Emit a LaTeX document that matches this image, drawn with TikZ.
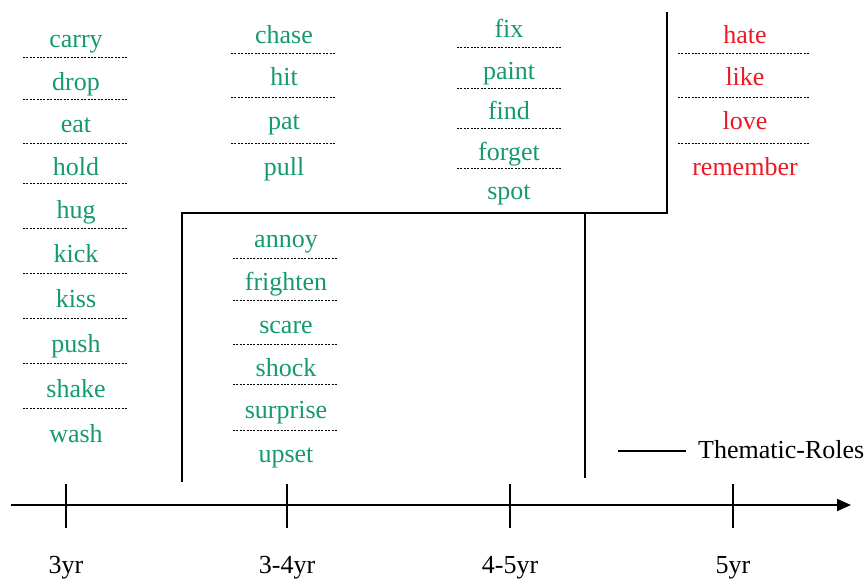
\documentclass[tikz,border=0pt]{standalone}
\usepackage{fontspec}
\setmainfont{Liberation Serif}
\usetikzlibrary{arrows.meta}
\definecolor{verbgreen}{RGB}{20,155,105}
\definecolor{verbred}{RGB}{235,25,35}
\begin{document}
\begin{tikzpicture}[x=1pt,y=-1pt,
  word/.style={anchor=base, inner sep=0pt, font=\fontsize{26}{30}\selectfont},
  gword/.style={word, text=verbgreen},
  rword/.style={word, text=verbred},
  sepline/.style={draw, line width=0.8pt, dash pattern=on 2pt off 1.4pt},
  frameline/.style={line width=2pt},
  tickline/.style={line width=2pt}]
\useasboundingbox (0,0) rectangle (868,579);

% column 1 (3yr)
\foreach \w/\b in {carry/47, drop/90, eat/132, hold/175, hug/218, kick/262, kiss/307, push/352, shake/397, wash/442}
  \node[gword] (c1-\w) at (76,\b) {\w};
\foreach \y in {57,99,143,183,228,273,318,363,408}
  \draw[sepline] (23,\y) -- (127,\y);

% column 2 top
\foreach \w/\b in {chase/43, hit/85, pat/129, pull/175}
  \node[gword] (c2-\w) at (284,\b) {\w};
\foreach \y in {53,97,143}
  \draw[sepline] (231,\y) -- (336,\y);

% column 2 bottom
\foreach \w/\b in {annoy/247, frighten/290, scare/333, shock/376, surprise/418, upset/462}
  \node[gword] (c2b-\w) at (286,\b) {\w};
\foreach \y in {258,300,344,384,430}
  \draw[sepline] (233,\y) -- (338,\y);

% column 3
\foreach \w/\b in {fix/37, paint/79, find/119, forget/160, spot/199}
  \node[gword] (c3-\w) at (509,\b) {\w};
\foreach \y in {47,88,128,168}
  \draw[sepline] (457,\y) -- (562,\y);

% column 4
\foreach \w/\b in {hate/43, like/85, love/129, remember/175}
  \node[rword] (c4-\w) at (745,\b) {\w};
\foreach \y in {53,97,143}
  \draw[sepline] (678,\y) -- (810,\y);

% frame
\coordinate (Lbot) at (182,482);
\coordinate (Ltop) at (182,213);
\coordinate (Mtop) at (585,213);
\coordinate (Mbot) at (585,478);
\coordinate (Rcorner) at (667,213);
\coordinate (Rtop) at (667,12);
\draw[frameline] (Lbot) -- (Ltop) -- (Rcorner) -- (Rtop);
\draw[frameline] (Mtop) -- (Mbot);

% axis
\coordinate (axstart) at (11,505);
\coordinate (axend) at (851,505);
\draw[frameline, -{Triangle[length=14pt,width=12pt]}] (axstart) -- (axend);
\foreach \n/\x/\t in {a/66/3yr, b/287/3-4yr, c/510/4-5yr, d/733/5yr}{
  \coordinate (tick\n top) at (\x,484);
  \coordinate (tick\n bot) at (\x,528);
  \draw[tickline] (tick\n top) -- (tick\n bot);
  \node[word] (lab\n) at (\x,573) {\t};
}

% legend
\coordinate (lga) at (618,451);
\coordinate (lgb) at (686,451);
\draw[frameline] (lga) -- (lgb);
\node[word, anchor=base west] (lgtext) at (698,458) {Thematic-Roles};
\end{tikzpicture}
\end{document}
